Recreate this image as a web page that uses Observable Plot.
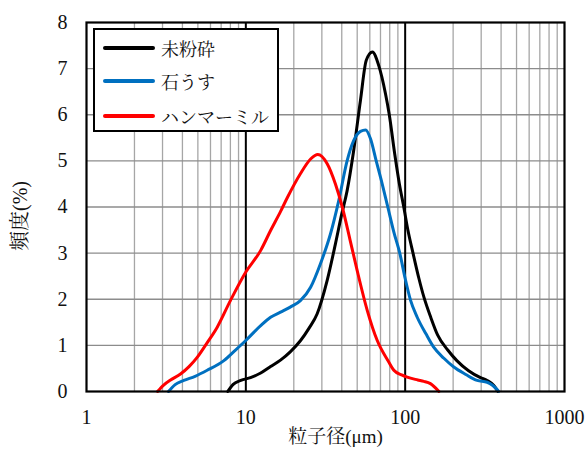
<!DOCTYPE html>
<html>
<head>
<meta charset="utf-8">
<script src="https://cdn.jsdelivr.net/npm/d3@7"></script>
<script src="https://cdn.jsdelivr.net/npm/@observablehq/plot@0.6"></script>
<style>
  body { margin: 0; background: #fff; }
  #wrap { position: relative; width: 587px; height: 450px; }
  #legend {
    position: absolute; left: 93px; top: 28px; width: 182px; height: 100px;
    border: 2px solid #000; background: #fff; box-sizing: content-box;
    font-family: "Liberation Serif", "Noto Serif CJK JP", serif; font-size: 18px; color: #111;
  }
  .row { position: absolute; left: 8px; height: 22px; display: flex; align-items: center; }
  .sw { width: 52px; height: 4px; margin-right: 6px; border-radius: 2px; }
</style>
</head>
<body>
<div id="wrap">
  <div id="chart"></div>
  <div id="legend"></div>
</div>
<script>
const seriesNames = ["未粉砕", "石うす", "ハンマーミル"];
const seriesColors = ["#000000", "#0070C0", "#FF0000"];

// 未粉砕 (unground)
const unground_x = [7.7, 8.3, 9.3, 10.7, 12.4, 14.3, 16.5, 19.0, 22.0, 25.0, 28.0, 32.4, 36.5, 40.0, 43.2, 47.5, 52.4, 57.0, 62.3, 68.2, 75.3, 79.5, 86.0, 92.0, 98.0, 104, 112, 122, 131, 145, 160, 185, 211, 250, 297, 327, 360, 382];
const unground_y = [0.0, 0.15, 0.24, 0.30, 0.40, 0.54, 0.68, 0.86, 1.10, 1.38, 1.68, 2.41, 3.20, 3.85, 4.35, 5.22, 6.31, 7.18, 7.36, 7.07, 6.45, 6.00, 5.15, 4.50, 4.00, 3.50, 3.00, 2.45, 2.05, 1.60, 1.22, 0.90, 0.67, 0.45, 0.30, 0.24, 0.13, 0.0];

// 石うす (stone mill)
const stone_x = [3.27, 3.6, 4.08, 4.8, 5.72, 7.28, 8.5, 9.95, 12.4, 14.3, 16.5, 19.0, 22.0, 25.5, 29.4, 34.0, 38.3, 43.2, 47.5, 52.4, 56.5, 60.6, 65.8, 70.0, 77.8, 85.0, 92.5, 100, 108, 119, 135, 151, 175, 202, 240, 283, 327, 355, 387];
const stone_y = [0.0, 0.15, 0.24, 0.33, 0.46, 0.67, 0.88, 1.10, 1.43, 1.61, 1.72, 1.83, 1.97, 2.26, 2.77, 3.42, 4.14, 5.00, 5.44, 5.64, 5.67, 5.48, 5.00, 4.65, 4.00, 3.45, 3.00, 2.45, 1.98, 1.61, 1.25, 0.96, 0.72, 0.53, 0.37, 0.24, 0.20, 0.13, 0.0];

// ハンマーミル (hammer mill)
const hammer_x = [2.79, 3.05, 3.37, 3.89, 4.4, 4.95, 5.7, 6.6, 8.0, 10.0, 12.4, 14.3, 16.5, 18.2, 22.0, 25.5, 28.3, 32.4, 36.5, 40.3, 45.0, 50.0, 57.8, 66.7, 78.9, 84.9, 95.0, 103, 120, 131, 144, 163];
const hammer_y = [0.0, 0.14, 0.25, 0.38, 0.54, 0.74, 1.05, 1.39, 1.97, 2.59, 3.06, 3.49, 3.90, 4.20, 4.72, 5.04, 5.14, 4.94, 4.50, 4.00, 3.30, 2.62, 1.76, 1.11, 0.64, 0.46, 0.36, 0.31, 0.25, 0.22, 0.17, 0.0];

const xTicks = [1, 10, 100, 1000];
const yTicks = [0, 1, 2, 3, 4, 5, 6, 7, 8];

const data = [
  ...unground_x.map((x, i) => ({x, y: unground_y[i], s: seriesNames[0]})),
  ...stone_x.map((x, i) => ({x, y: stone_y[i], s: seriesNames[1]})),
  ...hammer_x.map((x, i) => ({x, y: hammer_y[i], s: seriesNames[2]}))
];

const minorX = [];
for (const d of [1, 10, 100]) for (let k = 2; k <= 9; k++) minorX.push(d * k);
const majorX = [10, 100];
const gridY = yTicks.filter(v => v > 0 && v < 8);

const serif = "'Liberation Serif', 'Noto Serif CJK JP', serif";

const chart = Plot.plot({
  width: 587,
  height: 450,
  marginLeft: 86,
  marginRight: 23,
  marginTop: 22,
  marginBottom: 59,
  style: {fontFamily: serif, fontSize: "20px", color: "#111", background: "#fff"},
  x: {type: "log", domain: [1, 1000]},
  y: {domain: [0, 8]},
  color: {domain: seriesNames, range: seriesColors},
  marks: [
    Plot.ruleX(minorX, {stroke: "#a6a6a6", strokeWidth: 1.3}),
    Plot.ruleY(gridY, {stroke: "#8c8c8c", strokeWidth: 1.3}),
    Plot.ruleX(majorX, {stroke: "#000", strokeWidth: 2}),
    Plot.line(data, {x: "x", y: "y", z: "s", stroke: "s", strokeWidth: 3, curve: "monotone-x"}),
    Plot.frame({stroke: "#000", strokeWidth: 2.2}),
    Plot.axisX(xTicks, {tickSize: 0, tickPadding: 18, tickFormat: d => String(d), label: null, fontSize: 20, fill: "#111"}),
    Plot.axisY(yTicks, {tickSize: 0, tickPadding: 19, tickFormat: d => String(d), label: null, fontSize: 20, fill: "#111"}),
    Plot.text(["粒子径(μm)"], {frameAnchor: "bottom", dx: 10, dy: 51, fontSize: 19, fill: "#111"}),
    Plot.text(["頻度(%)"], {frameAnchor: "left", dx: -66, dy: 44, rotate: -90, fontSize: 20, fill: "#111"})
  ]
});
// force serif fonts on all texts (inline style wins over defaults)
d3.select(chart).selectAll("text").style("font-family", serif);
document.getElementById("chart").appendChild(chart);

const legend = document.getElementById("legend");
const rowTops = [7, 40, 75];
seriesNames.forEach((name, i) => {
  const row = document.createElement("div");
  row.className = "row";
  row.style.top = rowTops[i] + "px";
  const sw = document.createElement("div");
  sw.className = "sw";
  sw.style.background = seriesColors[i];
  const t = document.createElement("span");
  t.textContent = name;
  row.appendChild(sw);
  row.appendChild(t);
  legend.appendChild(row);
});
</script>
</body>
</html>
